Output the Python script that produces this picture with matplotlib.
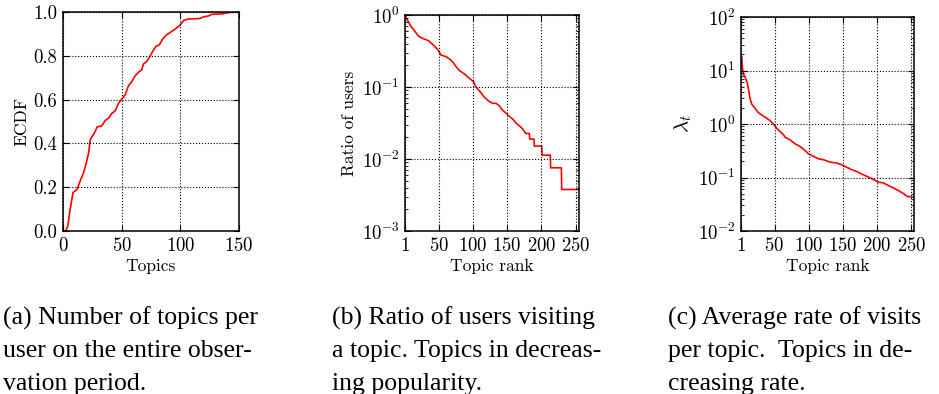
import matplotlib
matplotlib.use("Agg")
import matplotlib.pyplot as plt
from matplotlib.ticker import LogLocator, NullFormatter

plt.rcParams.update({
    "font.family": "cmr10",
    "mathtext.fontset": "cm",
    "axes.formatter.use_mathtext": True,
    "font.size": 12.5,
    "xtick.labelsize": 13.5,
    "ytick.labelsize": 13.5,
    "axes.linewidth": 1.1,
    "xtick.direction": "in",
    "ytick.direction": "in",
    "xtick.top": True,
    "ytick.right": True,
    "xtick.major.size": 4,
    "ytick.major.size": 4,
    "xtick.minor.size": 2,
    "ytick.minor.size": 2,
    "xtick.major.pad": 4,
    "ytick.major.pad": 4,
    "axes.labelpad": 3,
})

# (a) ECDF of the number of topics per user
topics_per_user = [0, 2, 4, 6, 8.5, 12, 14.7, 17.5, 19.8, 21.8, 23.2, 24.6, 27.5, 29, 33,
                   36, 38.8, 41.6, 44.4, 47.3, 50.1, 52.9, 55.8, 58.6, 61.4, 64.2, 67.1,
                   68.5, 71.3, 74.1, 76.4, 79.2, 82.1, 84.9, 88.3, 92.6, 96.8, 99.6, 103,
                   106.7, 116.6, 119.4, 124.5, 126.5, 136.4, 142, 150]
ecdf_values = [0.0, 0.0, 0.02, 0.095, 0.175, 0.19, 0.23, 0.265, 0.31, 0.355, 0.415, 0.43,
               0.455, 0.475, 0.48, 0.505, 0.515, 0.537, 0.548, 0.583, 0.603, 0.621, 0.663,
               0.682, 0.708, 0.724, 0.736, 0.762, 0.774, 0.797, 0.82, 0.843, 0.85, 0.876,
               0.896, 0.911, 0.927, 0.939, 0.962, 0.968, 0.97, 0.977, 0.983, 0.989, 0.992,
               0.998, 1.0]

# (b) Ratio of users visiting each topic, by popularity rank
popularity_rank = [1, 4.6, 9.5, 15.8, 20.7, 26.6, 35.4, 42.2, 48.6, 53.5, 60.8, 66.7, 71.5,
                   75.5, 80.4, 87.7, 95, 100.9, 104.8, 110.7, 117, 124.3, 129.2, 134, 139,
                   143, 148.8, 153.7, 158.6, 163.5, 168.4, 172.3, 177.2, 182.5, 183, 189.3,
                   189.8, 200.6, 201, 213.2, 213.6, 229.3, 229.7, 255]
user_ratio = [1.0, 0.85, 0.70, 0.587, 0.51, 0.474, 0.44, 0.383, 0.333, 0.278, 0.264, 0.242,
              0.218, 0.192, 0.169, 0.152, 0.132, 0.119, 0.099, 0.086, 0.0718, 0.0626,
              0.0593, 0.0593, 0.0545, 0.048, 0.043, 0.0387, 0.0356, 0.0313, 0.0287, 0.0264,
              0.0226, 0.0226, 0.0189, 0.0189, 0.0151, 0.0151, 0.0113, 0.0113, 0.00755,
              0.00755, 0.00377, 0.00377]

# (c) Average visit rate lambda_t per topic, by rate rank
rate_rank = [1, 2, 3, 4.4, 7.3, 10.3, 12.2, 14.2, 16.6, 21.5, 26.4, 31.2, 38.6, 43.4, 48.3,
             53.2, 58, 63, 65.4, 72.7, 80, 87.3, 94.7, 99.5, 106.9, 114.2, 121.5, 131.2,
             141, 148.3, 155.6, 163, 170.3, 177.6, 184.9, 192.2, 199.5, 202, 209.3, 216.6,
             223.9, 231.2, 238.6, 243.4, 248.3, 254]
visit_rate = [20.0, 18.5, 11.7, 8.6, 7.4, 5.75, 4.3, 3.02, 2.37, 1.97, 1.63, 1.48, 1.28,
              1.16, 1.0, 0.835, 0.724, 0.63, 0.568, 0.507, 0.427, 0.38, 0.32, 0.278, 0.248,
              0.224, 0.215, 0.194, 0.186, 0.173, 0.155, 0.14, 0.130, 0.116, 0.105, 0.0953,
              0.085, 0.0814, 0.0794, 0.0707, 0.0639, 0.057, 0.05, 0.0447, 0.0434, 0.0429]

rank_ticks = [1, 50, 100, 150, 200, 250]

captions = [
    ["(a) Number of topics per", "user on the entire obser-", "vation period."],
    ["(b) Ratio of users visiting", "a topic. Topics in decreas-", "ing popularity."],
    ["(c) Average rate of visits", "per topic.  Topics in de-", "creasing rate."],
]

fig = plt.figure(figsize=(9.39, 3.94), dpi=100)
bottom = 1 - 231 / 394
ax_a = fig.add_axes([63 / 939, bottom, 176 / 939, 219 / 394])
ax_b = fig.add_axes([405 / 939, bottom, 174 / 939, 216 / 394])
ax_c = fig.add_axes([741 / 939, bottom, 173 / 939, 214 / 394])

grid_kw = dict(color="black", linestyle=":", linewidth=0.8)
line_kw = dict(color="red", linewidth=1.2)

ax_a.plot(topics_per_user, ecdf_values, **line_kw)
ax_a.set_xlim(0, 150)
ax_a.set_ylim(0, 1)
ax_a.set_xticks([0, 50, 100, 150])
ax_a.set_yticks([0.0, 0.2, 0.4, 0.6, 0.8, 1.0])
ax_a.set_yticklabels(["0.0", "0.2", "0.4", "0.6", "0.8", "1.0"])
ax_a.set_xlabel("Topics")
ax_a.set_ylabel("ECDF")

ax_b.plot(popularity_rank, user_ratio, **line_kw)
ax_b.set_yscale("log")
ax_b.set_xlim(1, 255)
ax_b.set_ylim(1e-3, 1)
ax_b.set_xlabel("Topic rank")
ax_b.set_ylabel("Ratio of users")

ax_c.plot(rate_rank, visit_rate, **line_kw)
ax_c.set_yscale("log")
ax_c.set_xlim(1, 254)
ax_c.set_ylim(1e-2, 1e2)
ax_c.set_xlabel("Topic rank")
ax_c.set_ylabel(r"$\lambda_t$", fontsize=15)

for ax in (ax_b, ax_c):
    ax.set_xticks(rank_ticks)
    ax.yaxis.set_major_locator(LogLocator(base=10, numticks=10))
    ax.yaxis.set_minor_locator(LogLocator(base=10, subs=range(2, 10), numticks=10))
    ax.yaxis.set_minor_formatter(NullFormatter())

for ax in (ax_a, ax_b, ax_c):
    ax.grid(True, which="major", **grid_kw)
    ax.set_axisbelow(False)

caption_x = [3, 332, 668]
caption_y = [318, 351, 384]
for x, lines in zip(caption_x, captions):
    for y, line in zip(caption_y, lines):
        fig.text(x / 939, 1 - y / 394, line, family="Liberation Serif", fontsize=18.5,
                 ha="left", va="center")

fig.savefig("out.png", dpi=100)
